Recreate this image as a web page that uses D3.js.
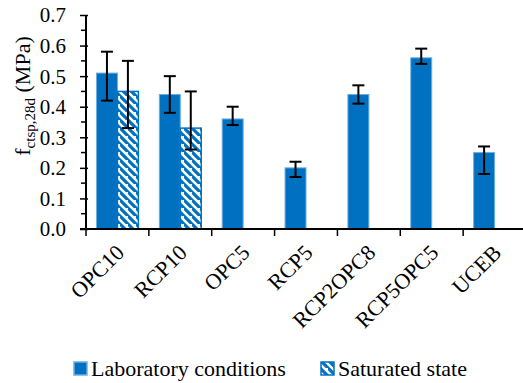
<!DOCTYPE html>
<html>
<head>
<meta charset="utf-8">
<script src="https://cdn.jsdelivr.net/npm/d3@7"></script>
<style>
  body { margin: 0; background: #fff; }
  svg text { font-family: "Liberation Serif", "Times New Roman", serif; fill: #000; }
</style>
</head>
<body>
<svg id="chart" width="523" height="383"></svg>
<script>
// data
var categories = ["OPC10", "RCP10", "OPC5", "RCP5", "RCP2OPC8", "RCP5OPC5", "UCEB"];
var labValues = [0.51, 0.44, 0.36, 0.20, 0.44, 0.56, 0.25];
var labHigh   = [0.58, 0.50, 0.40, 0.22, 0.47, 0.59, 0.27];
var labLow    = [0.42, 0.38, 0.34, 0.17, 0.41, 0.54, 0.18];
var satValues = [0.45, 0.33, null, null, null, null, null];
var satHigh   = [0.55, 0.45, null, null, null, null, null];
var satLow    = [0.33, 0.26, null, null, null, null, null];
var yTicks = [0, 0.1, 0.2, 0.3, 0.4, 0.5, 0.6, 0.7];
var seriesNames = ["Laboratory conditions", "Saturated state"];

var blue = "#0070c0";
var serif = "'Liberation Serif', 'Times New Roman', serif";
var svg = d3.select("#chart");

var x = d3.scaleBand().domain(categories).range([86, 526]);
var xs = d3.scaleBand().domain(["lab", "sat"]).range([0, x.bandwidth()]).paddingOuter(0.5);
var y = d3.scaleLinear().domain([0, 0.7]).range([229, 15]);

// hatch pattern for saturated state
var defs = svg.append("defs");
var pat = defs.append("pattern").attr("id", "hatch")
    .attr("patternUnits", "userSpaceOnUse").attr("width", 8).attr("height", 8);
pat.append("rect").attr("width", 8).attr("height", 8).attr("fill", "#fff");
pat.append("path").attr("d", "M-2,-2 L10,10 M-6,2 L2,10 M6,-6 L14,2")
    .attr("stroke", blue).attr("stroke-width", 3.2);

var rows = categories.map(function (c, i) {
    return {cat: c, lab: labValues[i], labHi: labHigh[i], labLo: labLow[i],
            sat: satValues[i], satHi: satHigh[i], satLo: satLow[i]};
});

// lab bars
svg.append("g").selectAll("rect").data(rows).enter().append("rect")
    .attr("x", function (d) { return x(d.cat) + xs("lab"); })
    .attr("y", function (d) { return y(d.lab); })
    .attr("width", xs.bandwidth())
    .attr("height", function (d) { return y(0) - y(d.lab); })
    .attr("fill", blue).attr("stroke", "#6aaee0").attr("stroke-width", 1);

// saturated bars
var satRows = rows.filter(function (d) { return d.sat != null; });
svg.append("g").selectAll("rect").data(satRows).enter().append("rect")
    .attr("x", function (d) { return x(d.cat) + xs("sat"); })
    .attr("y", function (d) { return y(d.sat); })
    .attr("width", xs.bandwidth())
    .attr("height", function (d) { return y(0) - y(d.sat); })
    .attr("fill", "url(#hatch)").attr("stroke", blue).attr("stroke-width", 1.5);

// error bars
function errorBars(data, key, hi, lo) {
    var g = svg.append("g").attr("stroke", "#000").attr("stroke-width", 2);
    data.forEach(function (d) {
        var cx = x(d.cat) + xs(key) + xs.bandwidth() / 2;
        g.append("line").attr("x1", cx).attr("x2", cx).attr("y1", y(d[hi])).attr("y2", y(d[lo]));
        g.append("line").attr("x1", cx - 6).attr("x2", cx + 6).attr("y1", y(d[hi])).attr("y2", y(d[hi]));
        g.append("line").attr("x1", cx - 6).attr("x2", cx + 6).attr("y1", y(d[lo])).attr("y2", y(d[lo]));
    });
}
errorBars(rows, "lab", "labHi", "labLo");
errorBars(satRows, "sat", "satHi", "satLo");

// y axis
var yAxis = svg.append("g").attr("transform", "translate(86,0)")
    .call(d3.axisLeft(y).tickValues(yTicks).tickFormat(d3.format(".1f")).tickSize(6).tickPadding(14));
yAxis.attr("font-family", serif).attr("font-size", 21);
yAxis.selectAll(".tick text").style("font-family", serif).style("font-size", "21px").attr("dy", "0.33em");
// minor ticks
var minor = d3.range(0.05, 0.7, 0.1);
yAxis.selectAll(".minor").data(minor).enter().append("line")
    .attr("class", "minor").attr("x1", -5).attr("x2", 0)
    .attr("y1", function (d) { return y(d); }).attr("y2", function (d) { return y(d); })
    .attr("stroke", "#000").attr("stroke-width", 1.5);
yAxis.select(".domain").attr("stroke-width", 2).attr("d", "M0," + y(0.7) + "V" + y(0));
yAxis.selectAll(".tick line").attr("stroke-width", 1.5).attr("x2", 2).attr("x1", -6);

// x axis
var xAxis = svg.append("g").attr("transform", "translate(0," + y(0) + ")");
xAxis.append("line").attr("x1", 80).attr("x2", 523).attr("stroke", "#000").attr("stroke-width", 2);
xAxis.selectAll(".xt").data(categories.concat([null])).enter().append("line")
    .attr("x1", function (d) { return d ? x(d) : x.range()[1]; })
    .attr("x2", function (d) { return d ? x(d) : x.range()[1]; })
    .attr("y1", 0).attr("y2", 7).attr("stroke", "#000").attr("stroke-width", 1.5);
xAxis.selectAll(".xl").data(categories).enter().append("text")
    .attr("transform", function (d) {
        return "translate(" + (x(d) + x.bandwidth() / 2 + 8) + ",25) rotate(-45)";
    })
    .attr("text-anchor", "end")
    .style("font-size", "22px").text(function (d) { return d; });

// y label
var yl = svg.append("text").attr("transform", "translate(30,96) rotate(-90)")
    .attr("text-anchor", "middle").style("font-size", "22px");
yl.append("tspan").text("f");
yl.append("tspan").attr("dy", 5).style("font-size", "15px").text("ctsp,28d");
yl.append("tspan").attr("dy", -5).text(" (MPa)");

// legend
var legend = svg.append("g");
var lx = [74, 321];
seriesNames.forEach(function (n, i) {
    legend.append("rect").attr("x", lx[i]).attr("y", 362).attr("width", 13).attr("height", 13)
        .attr("fill", i === 0 ? blue : "url(#hatch)")
        .attr("stroke", i === 0 ? "#6aaee0" : blue).attr("stroke-width", 1.5);
    legend.append("text").attr("x", lx[i] + 17).attr("y", 376)
        .style("font-size", "22px").text(n);
});
</script>
</body>
</html>
